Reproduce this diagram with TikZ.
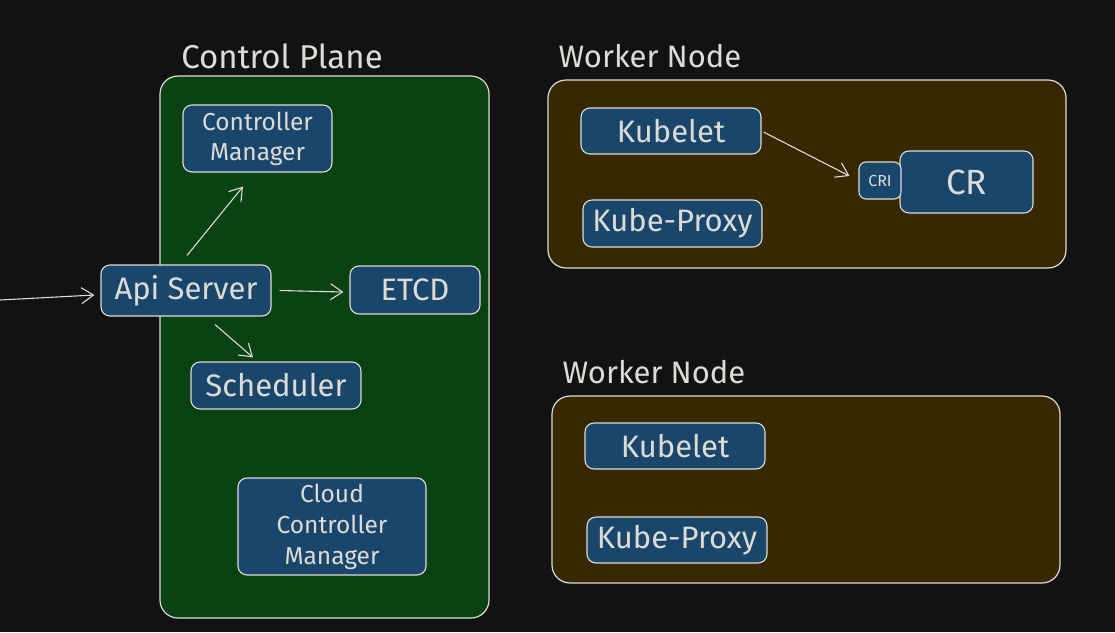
\documentclass[tikz,border=0pt]{standalone}
\usepackage{fontspec}
\setmainfont{Fira Sans}
\usetikzlibrary{arrows.meta}
\definecolor{bgc}{RGB}{18,18,18}
\definecolor{greenp}{RGB}{10,66,20}
\definecolor{brownp}{RGB}{56,40,2}
\definecolor{bluebox}{RGB}{26,70,108}
\definecolor{strk}{RGB}{220,220,215}
\begin{document}
\begin{tikzpicture}[x=1pt,y=-1pt,
  panel/.style={draw=strk, line width=1.2pt, rounded corners=18pt},
  comp/.style={draw=strk, fill=bluebox, line width=1.1pt, rounded corners=9pt, text=strk, align=center, inner sep=0pt},
  big/.style={font=\fontsize{31}{34}\selectfont},
  small/.style={font=\fontsize{24.5}{30}\selectfont},
  lbl/.style={text=strk},
  conn/.style={draw=strk, line width=1.1pt, -{Straight Barb[length=12pt,width=16pt,line width=1.1pt]}}]
\useasboundingbox (0,0) rectangle (1115,632);
\fill[bgc] (0,0) rectangle (1115,632);
% panels
\draw[panel, fill=greenp] (160,76) rectangle (489,618);
\draw[panel, fill=brownp] (548,80) rectangle (1066,268);
\draw[panel, fill=brownp] (552,396) rectangle (1060,583);
% labels
\node[lbl, font=\fontsize{33}{36}\selectfont] (cplbl) at (282,56) {Control Plane};
\node[lbl, font=\fontsize{31}{34}\selectfont] (wn1lbl) at (650,56) {Worker Node};
\node[lbl, font=\fontsize{31}{34}\selectfont] (wn2lbl) at (654,372) {Worker Node};
% control plane components
\node[comp, small, minimum width=149pt, minimum height=67pt] (cm) at (257.5,138.5) {Controller\\Manager};
\node[comp, big, minimum width=170pt, minimum height=51pt] (api) at (186,290.5) {Api Server};
\node[comp, big, minimum width=130pt, minimum height=48pt] (etcd) at (415,290) {ETCD};
\node[comp, big, minimum width=170pt, minimum height=47pt] (sched) at (276,385.5) {Scheduler};
\node[comp, small, font=\fontsize{24.5}{31}\selectfont, minimum width=188pt, minimum height=97pt] (ccm) at (332,526.5) {Cloud\\Controller\\Manager};
% worker 1
\node[comp, big, minimum width=180pt, minimum height=46pt] (kub1) at (671,131) {Kubelet};
\node[comp, big, minimum width=179pt, minimum height=47pt] (kp1) at (672.5,223.5) {Kube-Proxy};
\node[comp, font=\fontsize{35}{38}\selectfont, minimum width=133pt, minimum height=62pt] (cr) at (966.5,182) {\hspace*{0pt}CR};
\node[comp, minimum width=42pt, minimum height=37pt, rounded corners=7pt, font=\fontsize{16}{18}\selectfont] (cri) at (880,180.5) {CRI};
% worker 2
\node[comp, big, minimum width=180pt, minimum height=46pt] (kub2) at (675,446) {Kubelet};
\node[comp, big, minimum width=180pt, minimum height=46pt] (kp2) at (677,540) {Kube-Proxy};
% connectors
\coordinate (ext) at (0,300);
\draw[conn] (ext) -- ([xshift=-6pt,yshift=-4.5pt]api.west);
\draw[conn] ([xshift=1pt,yshift=9pt]api.north) -- ([xshift=-14.5pt,yshift=-14pt]cm.south);
\draw[conn] ([xshift=8pt]api.east) -- ([xshift=-6pt,yshift=-2pt]etcd.west);
\draw[conn] ([xshift=29pt,yshift=-8pt]api.south) -- ([xshift=-23pt,yshift=4pt]sched.north);
\draw[conn] ([xshift=2pt,yshift=-1pt]kub1.east) -- ([xshift=-9pt,yshift=4.5pt]cri.west);
\end{tikzpicture}
\end{document}
